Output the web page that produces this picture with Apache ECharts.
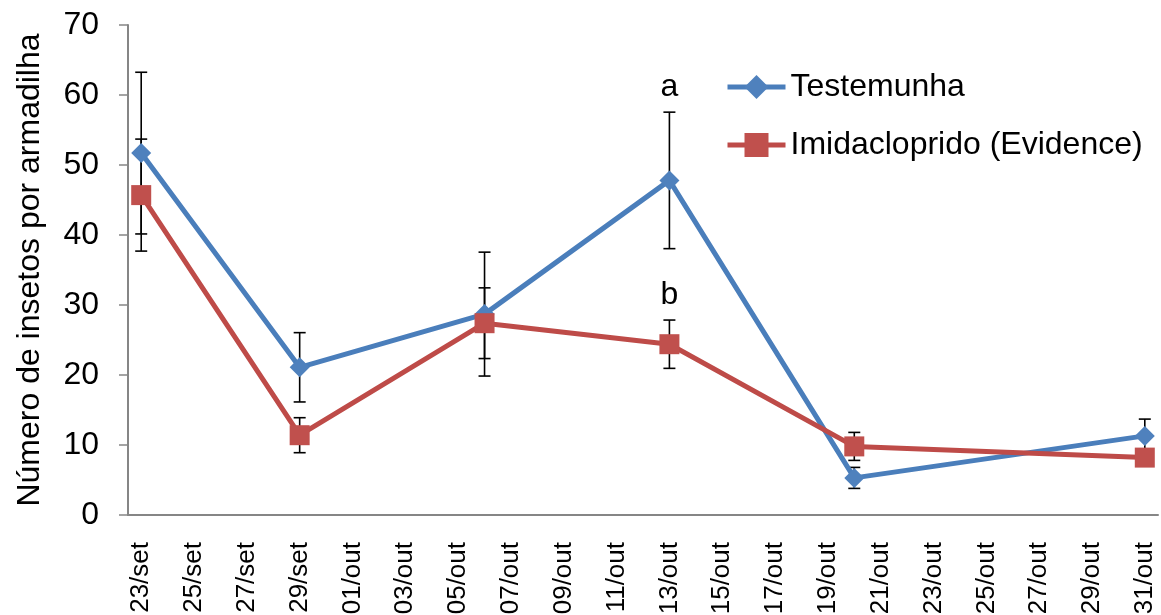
<!DOCTYPE html>
<html>
<head>
<meta charset="utf-8">
<script src="https://cdn.jsdelivr.net/npm/echarts@6/dist/echarts.min.js"></script>
<style>html,body{margin:0;padding:0;background:#fff;}#c{width:1161px;height:615px;}</style>
</head>
<body>
<div id="c"></div>
<script>
var days = ['23/set','24/set','25/set','26/set','27/set','28/set','29/set','30/set',
  '01/out','02/out','03/out','04/out','05/out','06/out','07/out','08/out','09/out','10/out',
  '11/out','12/out','13/out','14/out','15/out','16/out','17/out','18/out','19/out','20/out',
  '21/out','22/out','23/out','24/out','25/out','26/out','27/out','28/out','29/out','30/out','31/out'];
var sampleDays = ['23/set','29/set','06/out','13/out','20/out','31/out'];
var testemunha = [51.7, 21.1, 28.7, 47.8, 5.3, 11.3];
var testemunhaErr = [11.55, 4.95, 8.85, 9.75, 1.5, 2.4];
var testemunhaLetters = ['', '', '', 'a', '', ''];
var imidacloprido = [45.7, 11.4, 27.4, 24.4, 9.8, 8.2];
var imidaclopridoErr = [8.0, 2.5, 5.05, 3.45, 2.0, 1.0];
var imidaclopridoLetters = ['', '', '', 'b', '', ''];
var yTicks = [0, 10, 20, 30, 40, 50, 60, 70];

var FONT = "'Liberation Sans', Arial, sans-serif";
var BLUE = '#4A7EBB', RED = '#BE4B48';

function pairs(vals) {
  return sampleDays.map(function (d, i) { return [days.indexOf(d), vals[i]]; });
}
function errData(vals, errs) {
  return sampleDays.map(function (d, i) { return [days.indexOf(d), vals[i], errs[i]]; });
}
function makeErr(letters) {
  return function (params, api) {
    var x = api.value(0), v = api.value(1), e = api.value(2);
    var letter = letters[params.dataIndex];
    var top = api.coord([x, v + e]);
    var bot = api.coord([x, v - e]);
    var cw = 6;
    var st = { stroke: '#000', lineWidth: 1.6 };
    var children = [
      { type: 'line', shape: { x1: top[0], y1: top[1], x2: bot[0], y2: bot[1] }, style: st },
      { type: 'line', shape: { x1: top[0] - cw, y1: top[1], x2: top[0] + cw, y2: top[1] }, style: st },
      { type: 'line', shape: { x1: bot[0] - cw, y1: bot[1], x2: bot[0] + cw, y2: bot[1] }, style: st }
    ];
    if (letter) {
      children.push({ type: 'text', x: top[0], y: top[1] - 25,
        style: { text: letter, fontSize: 32, fontFamily: FONT, fill: '#000', align: 'center', verticalAlign: 'middle' } });
    }
    return { type: 'group', children: children };
  };
}

var chart = echarts.init(document.getElementById('c'));
chart.setOption({
  animation: false,
  backgroundColor: '#fff',
  grid: { left: 128, right: 3, top: 25, bottom: 100, containLabel: false, outerBoundsMode: 'none' },
  legend: {
    orient: 'vertical', left: 720, top: 66, itemGap: 26,
    itemWidth: 58, itemHeight: 30,
    lineStyle: { width: 5 },
    textStyle: { fontSize: 32, fontFamily: FONT, color: '#000', lineHeight: 32 },
    data: ['Testemunha', 'Imidacloprido (Evidence)']
  },
  xAxis: {
    type: 'category', data: days, boundaryGap: true,
    axisLine: { lineStyle: { color: '#868686', width: 2 } },
    axisTick: { interval: 1, length: 7, lineStyle: { color: '#868686', width: 1.5 } },
    axisLabel: { interval: 1, rotate: 90, margin: 27, fontSize: 26, fontFamily: FONT, color: '#000' },
    splitLine: { show: false }
  },
  yAxis: {
    type: 'value', min: yTicks[0], max: yTicks[yTicks.length - 1], interval: 10,
    name: 'Número de insetos por armadilha', nameLocation: 'middle', nameGap: 82,
    nameTextStyle: { fontSize: 32, fontFamily: FONT, color: '#000' },
    axisLine: { show: true, lineStyle: { color: '#868686', width: 2 } },
    axisTick: { show: true, inside: false, length: 9, lineStyle: { color: '#868686', width: 1.5 } },
    axisLabel: { margin: 29, fontSize: 32, fontFamily: FONT, color: '#000' },
    splitLine: { show: false }
  },
  series: [
    { type: 'custom', name: 'errT', renderItem: makeErr(testemunhaLetters), data: errData(testemunha, testemunhaErr), z: 1, silent: true, encode: { x: 0, y: 1 } },
    { type: 'custom', name: 'errI', renderItem: makeErr(imidaclopridoLetters), data: errData(imidacloprido, imidaclopridoErr), z: 1, silent: true, encode: { x: 0, y: 1 } },
    { type: 'line', name: 'Testemunha', data: pairs(testemunha), z: 3,
      symbol: 'diamond', symbolSize: 20, showAllSymbol: true,
      lineStyle: { color: BLUE, width: 5 }, itemStyle: { color: '#4F81BD', borderWidth: 0 } },
    { type: 'line', name: 'Imidacloprido (Evidence)', data: pairs(imidacloprido), z: 4,
      symbol: 'rect', symbolSize: 20, showAllSymbol: true,
      lineStyle: { color: RED, width: 5 }, itemStyle: { color: '#C0504D', borderWidth: 0 } }
  ]
});
</script>
</body>
</html>
